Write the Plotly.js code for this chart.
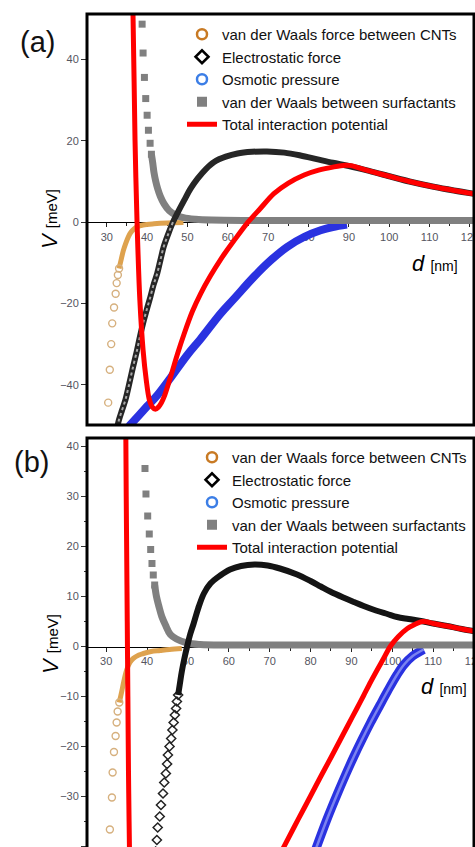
<!DOCTYPE html>
<html><head><meta charset="utf-8">
<script src="https://cdn.plot.ly/plotly-3.0.1.min.js"></script>
<style>html,body{margin:0;padding:0;background:#fff;}#chart{width:475px;height:847px;}</style>
</head><body><div id="chart"></div>
<script>
// ---------- series names ----------
const seriesNames = ["van der Waals force between CNTs", "Electrostatic force", "Osmotic pressure",
  "van der Waals between surfactants", "Total interaction potential"];
const panelLabels = ["(a)", "(b)"];
const xTickVals = [30, 40, 50, 60, 70, 80, 90, 100, 110, 120];
const yTickValsA = [-40, -20, 0, 20, 40];
const yTickValsB = [-40, -30, -20, -10, 0, 10, 20, 30, 40];

// ---------- panel (a) ----------
const aCntSparseD = [30.35, 30.75, 31.1, 31.35, 31.8, 32.2, 32.45, 32.75, 33.05];
const aCntSparseV = [-44.4, -36.3, -30.0, -24.9, -21.0, -17.6, -15.0, -13.0, -11.4];
const aCntBandD = [33.05, 33.5, 34.1, 34.7, 35.4, 35.9, 36.7, 37.6, 39.0, 41.7, 45.0, 49.0];
const aCntBandV = [-11.4, -9.5, -7.0, -5.2, -3.5, -2.6, -1.7, -1.1, -0.7, -0.4, -0.2, -0.1];

const aElecD = [32.6, 33.0, 33.8, 34.6, 35.4, 36.3, 37.5, 38.3, 39.2, 40.0, 40.8, 41.6, 42.5, 43.3, 44.1, 45.2, 46.4,
  47.5, 49.2, 50.8, 52.5, 54.5, 56.6, 59.5, 62.4, 66.0, 69.7, 74.0, 78.0, 82.0, 86.0, 90.0, 95.0, 100.7, 105.0, 111.0, 116.0, 121.0];
const aElecV = [-50.5, -48.7, -46.2, -43.8, -40.5, -36.5, -31.5, -27.8, -24.1, -21.2, -18.4, -15.4, -12.6, -9.3, -6.1, -3.0, 0.0,
  2.2, 5.4, 8.3, 10.7, 13.0, 14.8, 16.1, 16.9, 17.3, 17.4, 17.1, 16.4, 15.5, 14.6, 13.8, 12.6, 11.1, 10.0, 8.7, 7.8, 7.0];
const aElecChainCount = 17; // points of the open-diamond chain (d <= 46.4)

const aOsmD = [35.5, 38.0, 40.0, 42.5, 45.8, 50.0, 53.2, 58.2, 61.4, 66.5, 70.5, 74.7, 79.0, 83.0, 86.0, 89.5];
const aOsmV = [-50.2, -47.5, -45.3, -42.6, -38.3, -32.6, -28.8, -22.5, -19.0, -13.4, -9.5, -6.1, -3.6, -2.0, -1.2, -0.6];

const aSurfSparseD = [38.76, 39.0, 39.33, 39.65, 40.0, 40.32, 40.74, 41.06];
const aSurfSparseV = [48.7, 41.6, 35.6, 30.4, 26.3, 22.6, 19.4, 16.7];
const aSurfBandD = [41.06, 41.4, 41.7, 42.1, 42.6, 43.3, 44.2, 45.5, 47.0, 49.0, 52.0, 56.0, 65.0, 80.0, 100.0, 121.5];
const aSurfBandV = [16.7, 14.5, 12.2, 10.2, 8.3, 6.3, 4.5, 2.8, 1.8, 1.1, 0.7, 0.5, 0.4, 0.4, 0.4, 0.4];

const aTotalD = [36.4, 36.5, 37.0, 37.5, 38.2, 39.0, 39.8, 40.5, 41.3, 42.05, 42.8, 43.5, 44.2, 45.8, 47.5, 49.2, 51.2, 53.3, 55.7,
  58.2, 61.5, 65.0, 68.0, 71.4, 75.0, 78.9, 82.5, 86.3, 89.0, 90.5, 95.0, 100.7, 105.0, 111.0, 116.0, 121.0];
const aTotalV = [53.0, 51.2, 20.2, 0.0, -19.2, -31.5, -39.0, -43.5, -45.5, -46.0, -45.5, -44.5, -43.0, -38.1, -32.5, -27.4, -22.0, -17.5, -13.2,
  -9.2, -4.6, 0.0, 3.3, 7.0, 9.6, 11.6, 12.8, 13.6, 14.0, 13.9, 12.6, 11.1, 10.0, 8.7, 7.8, 7.0];

// ---------- panel (b) ----------
const bCntSparseD = [30.9, 31.4, 31.57, 31.9, 32.3, 32.55, 32.8, 33.2];
const bCntSparseV = [-36.6, -30.2, -25.2, -21.1, -17.9, -15.2, -13.0, -11.2];
const bCntBandD = [33.2, 33.8, 34.3, 35.0, 35.8, 36.6, 38.0, 39.1, 41.0, 43.2, 45.5, 48.5];
const bCntBandV = [-11.2, -9.0, -7.0, -4.7, -3.2, -2.4, -1.7, -1.4, -1.0, -0.8, -0.6, -0.4];

const bElecSparseD = [42.1, 42.4, 42.6, 43.1, 43.4, 43.9, 44.2, 44.6, 44.9, 45.1, 45.5, 45.9, 46.2, 46.5, 46.8, 47.1, 47.3, 47.6];
const bElecSparseV = [-41.0, -38.7, -36.2, -34.0, -31.7, -29.4, -27.2, -25.4, -23.5, -21.7, -20.0, -18.4, -16.7, -15.2, -13.7, -12.4, -11.0, -9.7];
const bElecBandD = [47.6, 48.0, 48.5, 49.1, 49.8, 50.5, 51.4, 52.5, 53.9, 55.5, 57.9, 60.3, 63.0, 66.3, 69.5, 72.5, 76.7, 80.0, 82.5,
  84.8, 88.0, 90.6, 93.0, 96.0, 98.8, 101.2, 104.0, 107.0, 110.0, 113.4, 117.0, 120.5];
const bElecBandV = [-9.7, -7.6, -5.0, -2.5, 0.0, 2.3, 4.6, 7.6, 10.6, 12.6, 14.2, 15.4, 16.1, 16.4, 16.2, 15.6, 14.4, 13.1, 12.0,
  11.0, 9.8, 8.9, 8.1, 7.2, 6.5, 5.9, 5.5, 5.1, 4.6, 4.1, 3.5, 3.0];

const bOsmD = [81.3, 84.0, 86.5, 88.5, 90.6, 92.6, 94.7, 97.0, 98.8, 101.2, 102.9, 105.0, 107.0, 107.7];
const bOsmV = [-40.5, -34.6, -29.6, -25.8, -22.0, -18.6, -15.2, -11.7, -9.0, -5.6, -3.6, -1.9, -0.9, -0.6];

const bSurfSparseD = [39.49, 39.73, 40.15, 40.54, 40.88, 41.2, 41.52, 41.86];
const bSurfSparseV = [35.6, 30.5, 26.1, 22.5, 19.4, 16.6, 14.3, 12.3];
const bSurfBandD = [41.86, 42.3, 42.9, 43.6, 44.5, 45.7, 47.2, 49.8, 53.0, 60.0, 80.0, 100.0, 121.0];
const bSurfBandV = [12.3, 10.0, 8.0, 6.0, 4.3, 2.4, 1.5, 0.7, 0.4, 0.3, 0.3, 0.3, 0.3];

const bTotalD = [34.8, 34.9, 35.0, 35.15, 35.3, 35.45, 35.6, 35.7, null,
  73.2, 76.0, 78.0, 80.0, 82.5, 85.0, 87.0, 89.0, 91.4, 93.0, 94.7, 96.5, 98.0, 99.5, 101.5, 103.7, 105.5, 107.3, 108.3,
  110.0, 113.4, 117.0, 120.5];
const bTotalV = [42.5, 30.0, 20.0, 5.0, -10.0, -25.0, -35.0, -41.0, null,
  -40.5, -36.1, -33.0, -29.9, -26.0, -22.2, -19.1, -16.0, -12.3, -9.8, -7.1, -4.4, -2.2, 0.0, 2.0, 3.6, 4.4, 5.0, 4.95,
  4.6, 4.1, 3.5, 3.0];

// ---------- geometry ----------
const W = 475, H = 847, ML = 87, MR = 1, MT = 14, MB = 0;
const PW = W - ML - MR, PH = H - MT - MB;
const pyP = py => (H - MB - py) / PH;
const pxP = px => (px - ML) / PW;
const yDomA = [pyP(425), 1], yDomB = [0, pyP(438)];
const xRangeA = [25.1, 121.0], yRangeA = [-49.9, 51.2];
const xRangeB = [25.3, 120.0], yRangeB = [-40.1, 41.7];
const zeroPos = (dom, rng) => dom[0] + (0 - rng[0]) / (rng[1] - rng[0]) * (dom[1] - dom[0]);

const C = {
  cntLegend: '#c87a24', cntSparse: '#d6b07e', cntBand: '#dea24e',
  osmLegend: '#3c7ee6', osm: '#2a32e0', osmInner: '#7a82f0', surf: '#808080', total: '#ff0000'
};

function panelTraces(xa, ya, lg, d) {
  const base = {type: 'scatter', xaxis: xa, yaxis: ya, showlegend: false, hoverinfo: 'skip'};
  const t = [];
  t.push(Object.assign({}, base, {x: d.cntBandD, y: d.cntBandV, mode: 'lines', line: {color: C.cntBand, width: 5, shape: 'spline'}}));
  t.push(Object.assign({}, base, {x: d.cntSparseD, y: d.cntSparseV, mode: 'markers',
    marker: {symbol: 'circle-open', size: 7, color: C.cntSparse, line: {width: 1.4}}}));
  t.push(Object.assign({}, base, {x: d.osmD, y: d.osmV, mode: 'lines', line: {color: C.osm, width: d.osmWidth, shape: 'spline'}}));
  if (d.osmInner) {
    t.push(Object.assign({}, base, {x: d.osmD, y: d.osmV, mode: 'lines', line: {color: C.osmInner, width: 2.5, shape: 'spline'}}));
  }
  t.push(Object.assign({}, base, {x: d.surfBandD, y: d.surfBandV, mode: 'lines', line: {color: C.surf, width: 7, shape: 'spline'}}));
  t.push(Object.assign({}, base, {x: d.surfSparseD, y: d.surfSparseV, mode: 'markers',
    marker: {symbol: 'square', size: 7, color: C.surf}}));
  if (d.elecSparseD) {
    t.push(Object.assign({}, base, {x: d.elecSparseD, y: d.elecSparseV, mode: 'markers',
      marker: {symbol: 'diamond-open', size: 7, color: '#222', line: {width: 1.5}}}));
  }
  t.push(Object.assign({}, base, {x: d.elecD, y: d.elecV, mode: 'lines', line: {color: d.elecColor, width: 6, shape: 'spline'}}));
  if (d.chainN) {
    t.push(Object.assign({}, base, {x: d.elecD.slice(0, d.chainN), y: d.elecV.slice(0, d.chainN), mode: 'lines',
      line: {color: '#a8a8a8', width: 2, shape: 'spline', dash: 'dot'}}));
  }
  t.push(Object.assign({}, base, {x: d.totalD, y: d.totalV, mode: 'lines', connectgaps: false,
    line: {color: C.total, width: 5, shape: 'spline', smoothing: 0.8}}));
  // legend-only entries
  const lgBase = {type: 'scatter', xaxis: xa, yaxis: ya, x: [null], y: [null], showlegend: true, legend: lg, hoverinfo: 'skip'};
  t.push(Object.assign({}, lgBase, {name: seriesNames[0], mode: 'markers',
    marker: {symbol: 'circle-open', size: 10, color: C.cntLegend, line: {width: 2.5}}}));
  t.push(Object.assign({}, lgBase, {name: seriesNames[1], mode: 'markers',
    marker: {symbol: 'diamond-open', size: 10, color: '#000', line: {width: 2.5}}}));
  t.push(Object.assign({}, lgBase, {name: seriesNames[2], mode: 'markers',
    marker: {symbol: 'circle-open', size: 10, color: C.osmLegend, line: {width: 2.5}}}));
  t.push(Object.assign({}, lgBase, {name: seriesNames[3], mode: 'markers',
    marker: {symbol: 'square', size: 10, color: C.surf}}));
  t.push(Object.assign({}, lgBase, {name: seriesNames[4], mode: 'lines',
    line: {color: C.total, width: 5}}));
  return t;
}

const traces = [].concat(
  panelTraces('x', 'y', 'legend', {
    cntBandD: aCntBandD, cntBandV: aCntBandV, cntSparseD: aCntSparseD, cntSparseV: aCntSparseV,
    osmD: aOsmD, osmV: aOsmV, osmWidth: 8, surfBandD: aSurfBandD, surfBandV: aSurfBandV,
    surfSparseD: aSurfSparseD, surfSparseV: aSurfSparseV, elecD: aElecD, elecV: aElecV, elecColor: '#262626',
    chainN: aElecChainCount, totalD: aTotalD, totalV: aTotalV}),
  panelTraces('x2', 'y2', 'legend2', {
    cntBandD: bCntBandD, cntBandV: bCntBandV, cntSparseD: bCntSparseD, cntSparseV: bCntSparseV,
    osmD: bOsmD, osmV: bOsmV, osmWidth: 9, osmInner: true, surfBandD: bSurfBandD, surfBandV: bSurfBandV,
    surfSparseD: bSurfSparseD, surfSparseV: bSurfSparseV, elecSparseD: bElecSparseD, elecSparseV: bElecSparseV,
    elecD: bElecBandD, elecV: bElecBandV, elecColor: '#141414',
    totalD: bTotalD, totalV: bTotalV})
);

const tickFont = {family: 'Liberation Sans, Arial, sans-serif', size: 11, color: '#555560'};
function xAxis(range, pos) {
  return {domain: [0, 1], range: range, anchor: 'free', position: pos, showline: true, linecolor: '#000', linewidth: 1.2,
    ticks: 'outside', ticklen: 4, tickwidth: 1, tickcolor: '#222', tickmode: 'array', tickvals: xTickVals,
    ticklabeloverflow: 'allow', tickfont: tickFont, showgrid: false, zeroline: false, layer: 'below traces', fixedrange: true,
    minor: {dtick: 5, tick0: 0, ticks: 'outside', ticklen: 3, tickcolor: '#222', tickwidth: 1}};
}
function yAxis(dom, range, vals, minor) {
  const ax = {domain: dom, range: range, anchor: 'free', position: 0, showline: false, ticks: 'outside', ticklen: 6,
    tickwidth: 1, tickcolor: '#333', tickmode: 'array', tickvals: vals, tickfont: tickFont, showgrid: false,
    zeroline: false, fixedrange: true};
  if (minor) ax.minor = {dtick: minor, tick0: 0, ticks: 'outside', ticklen: 3, tickcolor: '#333'};
  return ax;
}

const legendFont = {family: 'Arial, Liberation Sans, sans-serif', size: 15, color: '#111'};
const titleFont = {family: 'Arial, Liberation Sans, sans-serif', size: 22, color: '#000'};
const ann = (text, px, py, extra) => Object.assign({text: text, xref: 'paper', yref: 'paper', x: pxP(px), y: pyP(py),
  xanchor: 'center', yanchor: 'middle', showarrow: false, font: titleFont}, extra || {});
const vTitle = '<i>V</i> <span style="font-size:15px">[meV]</span>';
const dTitle = '<i>d</i> <span style="font-size:14px">[nm]</span>';
const labelFont = {family: 'Arial, Liberation Sans, sans-serif', size: 29, color: '#111'};

const layout = {
  width: W, height: H, margin: {l: ML, r: MR, t: MT, b: MB, pad: 0},
  paper_bgcolor: '#fff', plot_bgcolor: '#fff', showlegend: true,
  xaxis: xAxis(xRangeA, zeroPos(yDomA, yRangeA)),
  yaxis: yAxis(yDomA, yRangeA, yTickValsA, null),
  xaxis2: xAxis(xRangeB, zeroPos(yDomB, yRangeB)),
  yaxis2: yAxis(yDomB, yRangeB, yTickValsB, 5),
  legend: {x: pxP(182), y: pyP(18), xanchor: 'left', yanchor: 'top', font: legendFont, bgcolor: 'rgba(0,0,0,0)', borderwidth: 0},
  legend2: {x: pxP(192), y: pyP(441), xanchor: 'left', yanchor: 'top', font: legendFont, bgcolor: 'rgba(0,0,0,0)', borderwidth: 0},
  shapes: [
    {type: 'rect', xref: 'x domain', yref: 'y domain', x0: 0, x1: 1, y0: 0, y1: 1, line: {color: '#000', width: 3}, layer: 'above'},
    {type: 'rect', xref: 'x2 domain', yref: 'y2 domain', x0: 0, x1: 1, y0: -0.05, y1: 1, line: {color: '#000', width: 3}, layer: 'above'}
  ],
  annotations: [
    ann(panelLabels[0], 37, 42, {font: labelFont}),
    ann(panelLabels[1], 31, 462, {font: labelFont}),
    ann(vTitle, 50, 219, {textangle: -90}),
    ann(vTitle, 50, 644, {textangle: -90}),
    ann(dTitle, 435, 263),
    ann(dTitle, 444, 686)
  ]
};

Plotly.newPlot('chart', traces, layout, {staticPlot: true, displayModeBar: false});
</script></body></html>
